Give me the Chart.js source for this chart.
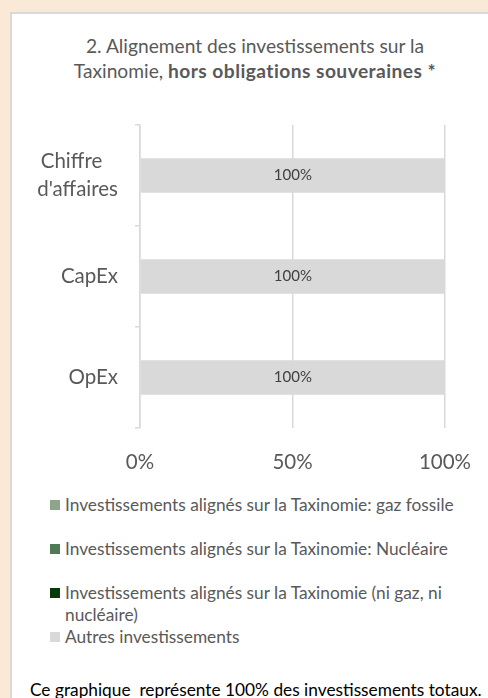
<!DOCTYPE html>
<html>
<head>
<meta charset="utf-8">
<script src="https://cdn.jsdelivr.net/npm/chart.js@4"></script>
<style>
  html, body { margin: 0; padding: 0; }
  body { width: 488px; height: 698px; background: #fbe9d8; position: relative; overflow: hidden; font-family: Lato, sans-serif; }
  #panel { position: absolute; left: 10px; top: 12px; width: 500px; height: 720px; background: #fff; border-left: 2px solid #d9d9d9; border-top: 2px solid #d9d9d9; }
  #title { position: absolute; left: 10px; top: 33px; width: 490px; text-align: center; color: #595959; font-size: 19.2px; line-height: 25px; }
  #title b { letter-spacing: 0.45px; }
  #chartBox { position: absolute; left: 0; top: 110px; width: 488px; height: 370px; }
  #legend { position: absolute; left: 50px; top: 494px; width: 420px; color: #595959; font-size: 17.3px; line-height: 22px; }
  .item { display: flex; align-items: flex-start; min-height: 44px; }
  .item:last-child { min-height: 22px; }
  .box { width: 10px; height: 10px; margin-top: 6px; margin-right: 5px; flex: none; }
  #note { position: absolute; left: 30px; top: 679px; color: #000; font-size: 17.3px; white-space: pre; }
</style>
</head>
<body>
<div id="panel"></div>
<div id="title">2. Alignement des investissements sur la<br>Taxinomie, <b>hors obligations souveraines *</b></div>
<div id="chartBox"><canvas id="chart"></canvas></div>
<div id="legend"></div>
<div id="note">Ce graphique  représente 100% des investissements totaux.</div>
<script>
const categories = [['Chiffre\u00a0\u00a0\u00a0', "d'affaires"], 'CapEx', 'OpEx'];
const seriesNames = [
  'Investissements alignés sur la Taxinomie: gaz fossile',
  'Investissements alignés sur la Taxinomie: Nucléaire',
  'Investissements alignés sur la Taxinomie (ni gaz, ni nucléaire)',
  'Autres investissements'
];
const gasValues = [0, 0, 0];
const nuclearValues = [0, 0, 0];
const otherAlignedValues = [0, 0, 0];
const otherValues = [100, 100, 100];
const xTicks = [0, 50, 100];

const colors = ['#8da58a', '#4f7a56', '#063a0a', '#d9d9d9'];
const textColor = '#595959';
const font = 'Lato, sans-serif';

// draws "100%" in the middle of each non-empty bar
const barLabels = {
  id: 'barLabels',
  afterDatasetsDraw(chart) {
    const ctx = chart.ctx;
    chart.data.datasets.forEach((ds, i) => {
      const meta = chart.getDatasetMeta(i);
      if (meta.hidden) return;
      meta.data.forEach((bar, j) => {
        const v = ds.data[j];
        if (!v) return;
        const p = bar.getProps(['x', 'y', 'base'], true);
        ctx.save();
        ctx.font = '15px ' + font;
        ctx.fillStyle = '#404040';
        ctx.textAlign = 'center';
        ctx.textBaseline = 'middle';
        ctx.fillText(v + '%', (p.x + p.base) / 2, p.y);
        ctx.restore();
      });
    });
  }
};

const allValues = [gasValues, nuclearValues, otherAlignedValues, otherValues];

const chart = new Chart(document.getElementById('chart'), {
  type: 'bar',
  data: {
    labels: categories,
    datasets: seriesNames.map((name, i) => ({
      label: name,
      data: allValues[i],
      backgroundColor: colors[i],
      categoryPercentage: 1,
      barPercentage: 0.34
    }))
  },
  options: {
    indexAxis: 'y',
    responsive: true,
    maintainAspectRatio: false,
    animation: false,
    layout: { padding: { top: 15, right: 43, left: 0, bottom: 0 } },
    plugins: { legend: { display: false }, tooltip: { enabled: false } },
    scales: {
      x: {
        stacked: true,
        min: 0,
        max: 100,
        afterBuildTicks: scale => { scale.ticks = xTicks.map(v => ({ value: v })); },
        afterFit: scale => { scale.height = 52; scale.paddingLeft = 0; scale.paddingRight = 0; },
        border: { display: false },
        grid: { color: '#d9d9d9', lineWidth: 1.5, drawTicks: false },
        ticks: { color: textColor, font: { family: font, size: 20.5 }, padding: 22, callback: v => v + '%' }
      },
      y: {
        stacked: true,
        afterFit: scale => { scale.width = 140; scale.paddingTop = 0; scale.paddingBottom = 0; },
        border: { display: true, color: '#d9d9d9', width: 1.5 },
        grid: { drawOnChartArea: false, drawTicks: true, tickLength: 5, color: '#d9d9d9', lineWidth: 1.5 },
        ticks: { color: textColor, font: { family: font, size: 20.5, lineHeight: 1.4 }, padding: 17 }
      }
    }
  },
  plugins: [barLabels]
});

const legend = document.getElementById('legend');
chart.data.datasets.forEach(ds => {
  const item = document.createElement('div');
  item.className = 'item';
  const box = document.createElement('span');
  box.className = 'box';
  box.style.background = ds.backgroundColor;
  const txt = document.createElement('span');
  txt.textContent = ds.label;
  item.appendChild(box);
  item.appendChild(txt);
  legend.appendChild(item);
});
</script>
</body>
</html>
